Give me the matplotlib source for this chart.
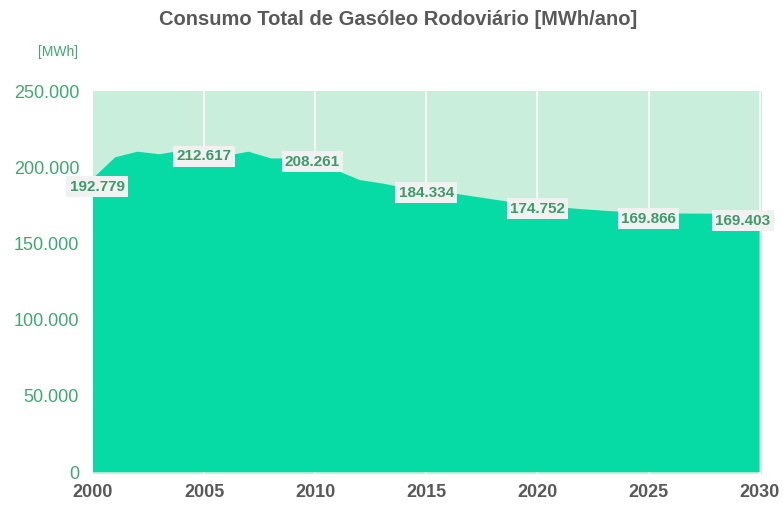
import matplotlib
matplotlib.use("Agg")
import matplotlib.pyplot as plt
from matplotlib.ticker import FuncFormatter

plt.rcParams['font.family'] = ['Liberation Sans', 'DejaVu Sans']

# yearly values, MWh
years = list(range(2000, 2031))
consumo = [192779, 206500, 210200, 208500, 211000, 212617, 207500, 210200, 205800, 205800,
           208261, 197700, 191600, 189400, 186500, 184334, 183300, 181100, 178900, 176800,
           174752, 173700, 172500, 171500, 170600, 169866, 169700, 169600, 169500, 169450,
           169403]
label_years = [2000, 2005, 2010, 2015, 2020, 2025, 2030]

area_color = '#07DBA5'
bg_color = '#C9EEDC'
green_txt = '#3EA870'
label_txt = '#3D9A6A'
gray_txt = '#595959'

fig = plt.figure(figsize=(7.83, 5.05), dpi=100)
ax = fig.add_axes([0.1188, 0.0614, 0.973 - 0.1188, 0.8198 - 0.0614])
ax.set_facecolor(bg_color)
ax.set_axisbelow(True)
ax.fill_between(years, consumo, 0, facecolor=area_color, edgecolor='none', lw=0, zorder=3)

ax.set_xlim(2000, 2030.1)
ax.set_ylim(-1200, 250000)
ax.set_xticks(range(2000, 2031, 5))
ax.set_yticks(range(0, 250001, 50000))
ax.yaxis.set_major_formatter(FuncFormatter(lambda v, p: f"{int(v):,}".replace(",", ".")))
ax.xaxis.grid(True, color='white', lw=1.2)
ax.xaxis.get_gridlines()[0].set_visible(False)
ax.tick_params(length=0)
ax.tick_params(axis='y', labelsize=13, labelcolor=green_txt, pad=10)
ax.tick_params(axis='x', labelsize=13, labelcolor=gray_txt, pad=7)
for t in ax.get_xticklabels():
    t.set_fontweight('bold')
for s in ax.spines.values():
    s.set_visible(False)

# label offsets in points (dx, dy)
offsets = {2000: (3, -6), 2005: (0, -6), 2010: (-2, -5), 2015: (0, -1),
           2020: (0, -2), 2025: (0, -4), 2030: (-12, -5)}
for yr in label_years:
    v = consumo[years.index(yr)]
    ax.annotate(f"{v/1000:.3f}", (yr, v), xytext=offsets[yr], textcoords='offset points',
                ha='center', va='center', fontsize=11, fontweight='bold', color=label_txt,
                bbox=dict(boxstyle='square,pad=0.22', fc='#F1F1F1', ec='none'),
                zorder=5, annotation_clip=False)

fig.text(0.508, 0.962, "Consumo Total de Gasóleo Rodoviário [MWh/ano]", ha='center', va='center',
         fontsize=14.5, fontweight='bold', color=gray_txt)
fig.text(0.074, 0.898, "[MWh]", ha='center', va='center', fontsize=10, color=green_txt)

fig.savefig("out.png", dpi=100)
